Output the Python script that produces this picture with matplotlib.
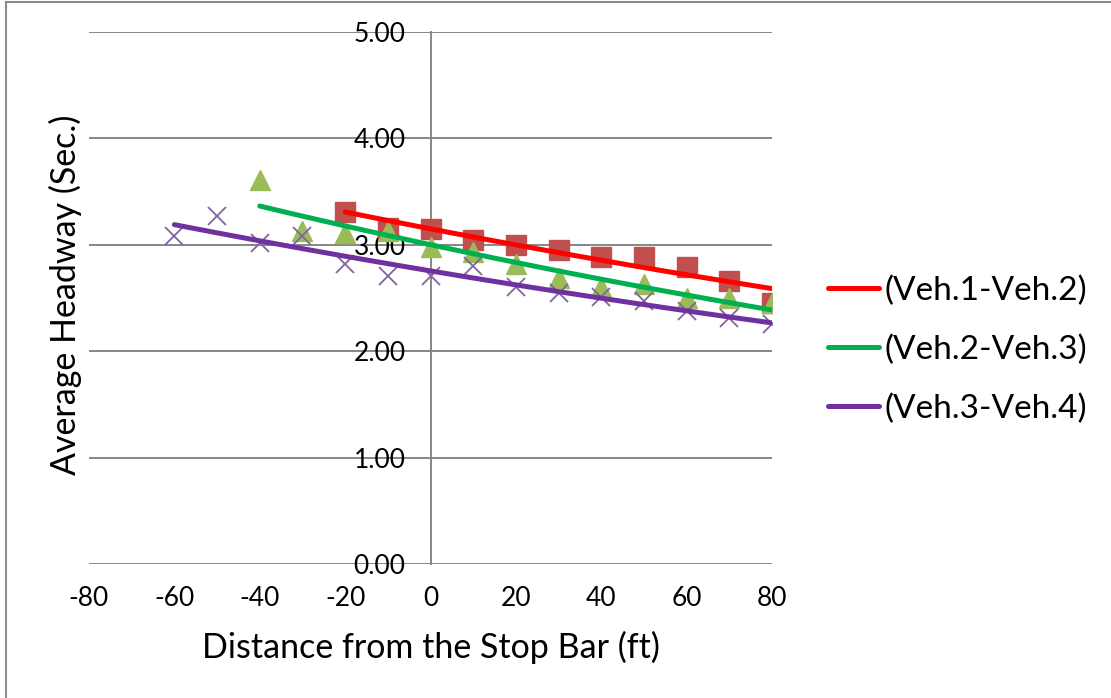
import numpy as np
import matplotlib
matplotlib.use('Agg')
from matplotlib import pyplot as plt
from matplotlib.lines import Line2D

plt.rcParams['font.family'] = ['Lato', 'DejaVu Sans']
plt.rcParams['axes.unicode_minus'] = False

# Distance from stop bar (ft) and average headway (sec.)
x_12 = [-20, -10, 0, 10, 20, 30, 40, 50, 60, 70, 80]
h_12 = [3.31, 3.16, 3.15, 3.05, 3.00, 2.95, 2.89, 2.89, 2.79, 2.66, 2.45]

x_23 = [-40, -30, -20, -10, 0, 10, 20, 30, 40, 50, 60, 70, 80]
h_23 = [3.61, 3.13, 3.11, 3.13, 2.98, 2.93, 2.82, 2.69, 2.60, 2.63, 2.50, 2.50, 2.45]

x_34 = [-60, -50, -40, -30, -20, -10, 0, 10, 20, 30, 40, 50, 60, 70, 80]
h_34 = [3.08, 3.27, 3.02, 3.08, 2.82, 2.71, 2.71, 2.80, 2.60, 2.55, 2.51, 2.47, 2.38, 2.31, 2.26]

labels = ['(Veh.1-Veh.2)', '(Veh.2-Veh.3)', '(Veh.3-Veh.4)']
x_ticks = [-80, -60, -40, -20, 0, 20, 40, 60, 80]
y_ticks = [0, 1, 2, 3, 4, 5]

fig = plt.figure(figsize=(11.11, 6.98), dpi=100)
ax = fig.add_axes([0.0801, 0.192, 0.6148, 0.762])

grid_col = '#868686'

# markers
ax.plot(x_12, h_12, linestyle='none', marker='s', markersize=14, color='#C0504D', zorder=3)
ax.plot(x_23, h_23, linestyle='none', marker='^', markersize=15, color='#9BBB59', zorder=4)
ax.plot(x_34, h_34, linestyle='none', marker='x', markersize=13, markeredgewidth=1.3,
        color='#8064A2', zorder=5)

# exponential trend lines (fit ln(y) vs x)
handles = []
for xs, hs, col, lab in [(x_12, h_12, '#FF0000', labels[0]),
                         (x_23, h_23, '#00B050', labels[1]),
                         (x_34, h_34, '#7030A0', labels[2])]:
    xs = np.array(xs, dtype=float)
    b, a = np.polyfit(xs, np.log(hs), 1)
    xx = np.linspace(xs.min(), xs.max(), 100)
    ln, = ax.plot(xx, np.exp(a + b * xx), color=col, linewidth=3.6,
                  solid_capstyle='round', zorder=6, label=lab)
    handles.append(ln)

ax.set_xlim(-80, 80)
ax.set_ylim(0, 5)
ax.set_xticks(x_ticks)
ax.set_yticks(y_ticks)
ax.set_yticklabels(['%.2f' % v for v in y_ticks])

ax.yaxis.grid(True, color=grid_col, linewidth=1.4)
ax.set_axisbelow(True)
for s in ['top', 'right', 'bottom']:
    ax.spines[s].set_visible(False)
ax.spines['left'].set_position(('data', 0))
ax.spines['left'].set_color(grid_col)
ax.spines['left'].set_linewidth(1.4)

ax.tick_params(axis='y', length=0, pad=18, labelsize=19)
ax.tick_params(axis='x', length=0, pad=16, labelsize=19)

ax.set_xlabel('Distance from the Stop Bar (ft)', fontsize=24.5, labelpad=14)
fig.text(0.059, 0.577, 'Average Headway (Sec.)', rotation=90, fontsize=24.5,
         ha='center', va='center')

fig.legend(handles=handles, loc='center left', bbox_to_anchor=(0.745, 0.499),
           frameon=False, fontsize=24, handlelength=1.55, handletextpad=0.15,
           labelspacing=0.85, borderpad=0, borderaxespad=0)

# outer chart border (left and top edges)
fig.add_artist(Line2D([0.005, 0.005], [0.0, 0.997], color='#8C8C8C', linewidth=1.5))
fig.add_artist(Line2D([0.005, 1.0], [0.997, 0.997], color='#8C8C8C', linewidth=1.5))

plt.savefig('out.png', dpi=100)
plt.close()
